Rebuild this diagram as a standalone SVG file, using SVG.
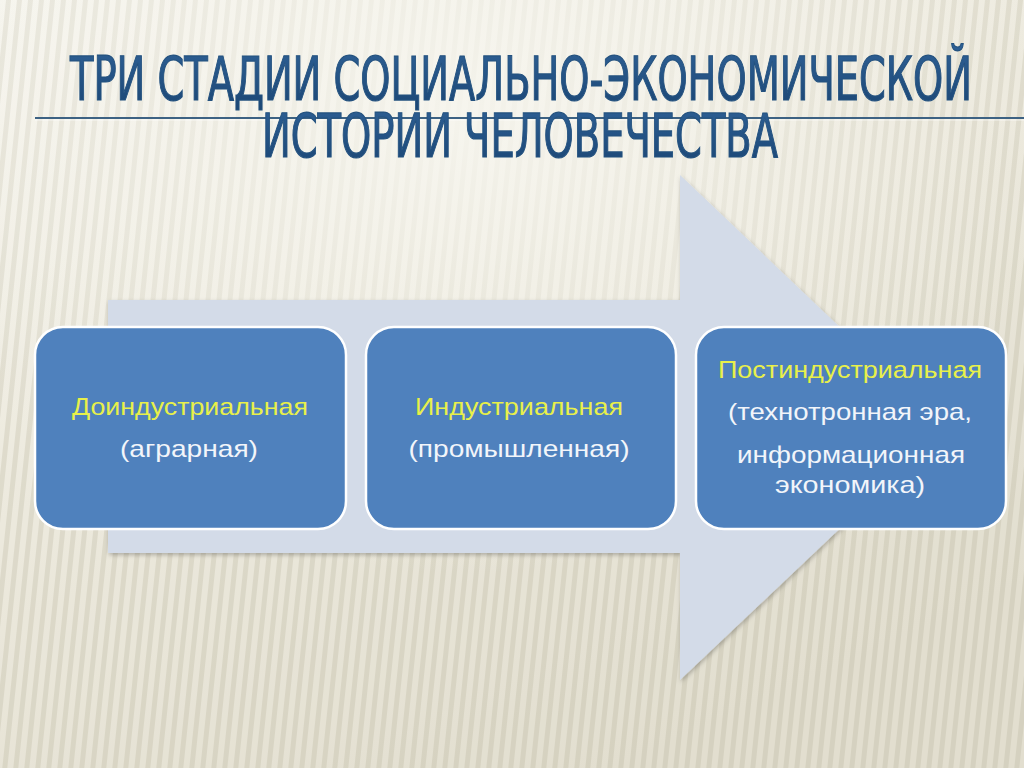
<svg xmlns="http://www.w3.org/2000/svg" width="1024" height="768" viewBox="0 0 1024 768">
<defs>
<linearGradient id="bg" x1="0" y1="0" x2="0.6" y2="1">
<stop offset="0" stop-color="#f3f1e8"/>
<stop offset="0.5" stop-color="#e6e2d2"/>
<stop offset="1" stop-color="#d8d3bf"/>
</linearGradient>
<pattern id="stripes" width="11" height="40" patternUnits="userSpaceOnUse" patternTransform="skewX(-6)">
<rect x="0" y="0" width="11" height="40" fill="#ffffff" opacity="0.25"/>
<rect x="6" y="0" width="5" height="40" fill="#a9a288" opacity="0.22"/>
</pattern>
<radialGradient id="glow" cx="0.45" cy="0.15" r="0.6">
<stop offset="0" stop-color="#f7f6ef" stop-opacity="0.9"/>
<stop offset="1" stop-color="#f7f6ef" stop-opacity="0"/>
</radialGradient>
<linearGradient id="titleFill" x1="0" y1="0" x2="0" y2="1">
<stop offset="0" stop-color="#2f6196"/>
<stop offset="1" stop-color="#1a4573"/>
</linearGradient>
<filter id="sh" x="-5%" y="-5%" width="115%" height="115%">
<feDropShadow dx="1" dy="2" stdDeviation="2" flood-color="#000" flood-opacity="0.25"/>
</filter>
<style>
.box{fill:#4f81bd;stroke:#ffffff;stroke-width:2.5}
.hd{font-family:"Century Gothic","Liberation Sans","DejaVu Sans",sans-serif;font-size:24px;fill:#e8f04a;text-anchor:middle}
.sub{font-family:"Liberation Sans","DejaVu Sans",sans-serif;font-size:24px;fill:#f2f5fa;text-anchor:middle}
.title{font-family:"DejaVu Sans Condensed","Liberation Sans Narrow","Liberation Sans",sans-serif;font-size:60px;fill:url(#titleFill);stroke:#24527f;stroke-width:1.2;text-anchor:middle}
</style>
</defs>
<rect width="1024" height="768" fill="url(#bg)"/>
<rect width="1024" height="768" fill="url(#stripes)"/>
<rect width="1024" height="768" fill="url(#glow)"/>

<g id="title">
<line x1="35" y1="118" x2="1024" y2="118" stroke="#3d6283" stroke-width="2"/>
<line x1="35" y1="120" x2="1024" y2="120" stroke="#ffffff" stroke-width="1" opacity="0.6"/>
<text class="title" x="521" y="100" textLength="902" lengthAdjust="spacingAndGlyphs">ТРИ СТАДИИ СОЦИАЛЬНО-ЭКОНОМИЧЕСКОЙ</text>
<text class="title" x="520" y="157" textLength="516" lengthAdjust="spacingAndGlyphs">ИСТОРИИ ЧЕЛОВЕЧЕСТВА</text>
</g>

<g id="arrow">
<path d="M108,300 L680,300 L680,175 L946,428 L680,680 L680,553 L108,553 Z" fill="#d3dbe8" filter="url(#sh)"/>
</g>

<g id="node1">
<rect class="box" x="35" y="327" width="311" height="202" rx="28" ry="28"/>
<text class="hd" x="190" y="415" textLength="236" lengthAdjust="spacingAndGlyphs">Доиндустриальная</text>
<text class="sub" x="189" y="457" textLength="138" lengthAdjust="spacingAndGlyphs">(аграрная)</text>
</g>

<g id="node2">
<rect class="box" x="366" y="327" width="310" height="202" rx="28" ry="28"/>
<text class="hd" x="519" y="415" textLength="208" lengthAdjust="spacingAndGlyphs">Индустриальная</text>
<text class="sub" x="519" y="457" textLength="221" lengthAdjust="spacingAndGlyphs">(промышленная)</text>
</g>

<g id="node3">
<rect class="box" x="696" y="327" width="310" height="202" rx="28" ry="28"/>
<text class="hd" x="850" y="378" textLength="264" lengthAdjust="spacingAndGlyphs">Постиндустриальная</text>
<text class="sub" x="850" y="420" textLength="244" lengthAdjust="spacingAndGlyphs">(технотронная эра,</text>
<text class="sub" x="851" y="463" textLength="228" lengthAdjust="spacingAndGlyphs">информационная</text>
<text class="sub" x="850" y="493" textLength="150" lengthAdjust="spacingAndGlyphs">экономика)</text>
</g>
</svg>
